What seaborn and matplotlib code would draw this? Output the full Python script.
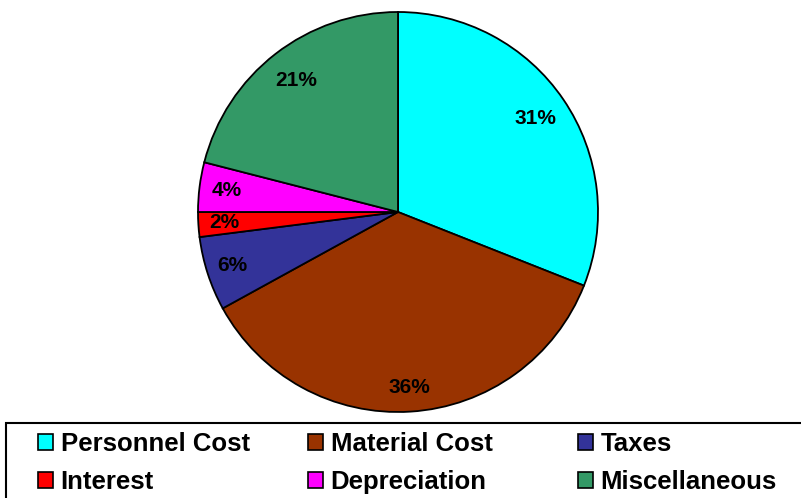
import matplotlib
matplotlib.use("Agg")
import numpy as np
import matplotlib.pyplot as plt
import seaborn as sns
from matplotlib.patches import Patch, Rectangle

sns.set_theme(style="white")
plt.rcParams['font.family'] = ['Liberation Sans', 'DejaVu Sans']

# Datos
categorias = ["Personnel Cost", "Material Cost", "Taxes", "Interest", "Depreciation", "Miscellaneous"]
valores = [31, 36, 6, 2, 4, 21]
colores = ["#00FFFF", "#993300", "#333399", "#FF0000", "#FF00FF", "#339966"]

W, H = 801, 498
fig = plt.figure(figsize=(W / 100, H / 100), dpi=100)
ax = fig.add_axes([198 / W, 1 - 412 / H, 400 / W, 400 / H])

wedges, textos, pcts = ax.pie(valores, colors=colores, startangle=90, counterclock=False,
                              autopct='%1.0f%%', pctdistance=0.85,
                              wedgeprops=dict(edgecolor='black', linewidth=1.3))

# distancia de cada etiqueta al centro (como en el original)
dist = [0.83, 0.88, 0.87, 0.87, 0.865, 0.83]
for w, t, d in zip(wedges, pcts, dist):
    ang = np.deg2rad((w.theta1 + w.theta2) / 2)
    t.set_position((d * np.cos(ang), d * np.sin(ang)))
    t.set_fontsize(15)
    t.set_fontweight('bold')
    t.set_color('black')
ax.set_aspect('equal')
ax.set_xlim(-1, 1)
ax.set_ylim(-1, 1)
ax.axis('off')

# Marco de la leyenda
fig.patches.append(Rectangle((6 / W, -0.05), 1.0, 1 - 423 / H + 0.05,
                             transform=fig.transFigure, fill=False,
                             edgecolor='black', linewidth=1.5))

# Leyenda: una entrada por posicion (filas de 3)
col_x = [38, 308, 578]
fila_y = [444, 482]
for i, (cat, col) in enumerate(zip(categorias, colores)):
    x = col_x[i % 3] / W
    y = 1 - fila_y[i // 3] / H
    lg = fig.legend([Patch(facecolor=col, edgecolor='black', linewidth=1.2)], [cat],
                    loc='center left', bbox_to_anchor=(x, y), frameon=False,
                    prop=dict(family='Liberation Sans', weight='bold', size=18.5),
                    handlelength=0.58, handleheight=0.58, handletextpad=0.3,
                    borderpad=0, borderaxespad=0)
    for t in lg.get_texts():
        t.set_color('black')

fig.savefig('out.png', dpi=100)
